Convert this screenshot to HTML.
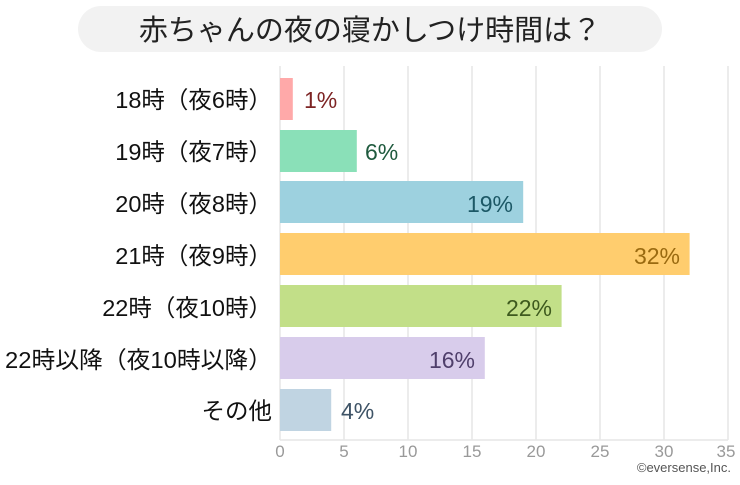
<!DOCTYPE html>
<html><head><meta charset="utf-8"><style>
body{margin:0;background:#fff;width:740px;height:480px;overflow:hidden}
</style></head><body>
<svg width="740" height="480" xmlns="http://www.w3.org/2000/svg" font-family="'Liberation Sans','Noto Sans CJK JP',sans-serif">
<rect x="78" y="6" width="584" height="46" rx="23" fill="#f2f2f2"/>
<text x="370" y="40" font-size="29" text-anchor="middle" fill="#222">赤ちゃんの夜の寝かしつけ時間は？</text>
<g stroke="#e6e6e6" stroke-width="1.5">
<line x1="344" y1="66" x2="344" y2="440"/><line x1="408" y1="66" x2="408" y2="440"/>
<line x1="472" y1="66" x2="472" y2="440"/><line x1="536" y1="66" x2="536" y2="440"/>
<line x1="600" y1="66" x2="600" y2="440"/><line x1="664" y1="66" x2="664" y2="440"/>
<line x1="728" y1="66" x2="728" y2="440"/><line x1="280" y1="440" x2="728" y2="440"/>
<line x1="280" y1="66" x2="280" y2="440"/>
</g>
<rect x="280" y="78" width="12.8" height="42" fill="#ffa9a9"/>
<rect x="280" y="130" width="76.8" height="42" fill="#8ae0b8"/>
<rect x="280" y="181" width="243.2" height="42" fill="#9dd1df"/>
<rect x="280" y="233" width="409.6" height="42" fill="#ffcd6e"/>
<rect x="280" y="285" width="281.6" height="42" fill="#c2df88"/>
<rect x="280" y="337" width="204.8" height="42" fill="#d8cceb"/>
<rect x="280" y="389" width="51.2" height="42" fill="#c0d4e2"/>
<g font-size="23">
<text x="304" y="108" fill="#7d2424">1%</text>
<text x="365" y="160" fill="#1f5a3e">6%</text>
<text x="513" y="212" text-anchor="end" fill="#1c5866">19%</text>
<text x="680" y="264" text-anchor="end" fill="#9a6a10">32%</text>
<text x="552" y="316" text-anchor="end" fill="#3e5a1e">22%</text>
<text x="475" y="368" text-anchor="end" fill="#4f3f6b">16%</text>
<text x="341" y="419" fill="#3e5366">4%</text>
</g>
<g font-size="23.5" text-anchor="end" fill="#111">
<text x="272" y="108">18時（夜6時）</text>
<text x="272" y="160">19時（夜7時）</text>
<text x="272" y="212">20時（夜8時）</text>
<text x="272" y="264">21時（夜9時）</text>
<text x="272" y="316">22時（夜10時）</text>
<text x="272" y="368" textLength="267" lengthAdjust="spacingAndGlyphs">22時以降（夜10時以降）</text>
<text x="272" y="419">その他</text>
</g>
<g font-size="17" fill="#999" text-anchor="middle">
<text x="280" y="457">0</text><text x="344" y="457">5</text><text x="408" y="457">10</text>
<text x="472" y="457">15</text><text x="536" y="457">20</text><text x="600" y="457">25</text>
<text x="664" y="457">30</text><text x="726" y="457">35</text>
</g>
<text x="731" y="472" font-size="13" fill="#555" text-anchor="end">©eversense,Inc.</text>
</svg>
</body></html>
